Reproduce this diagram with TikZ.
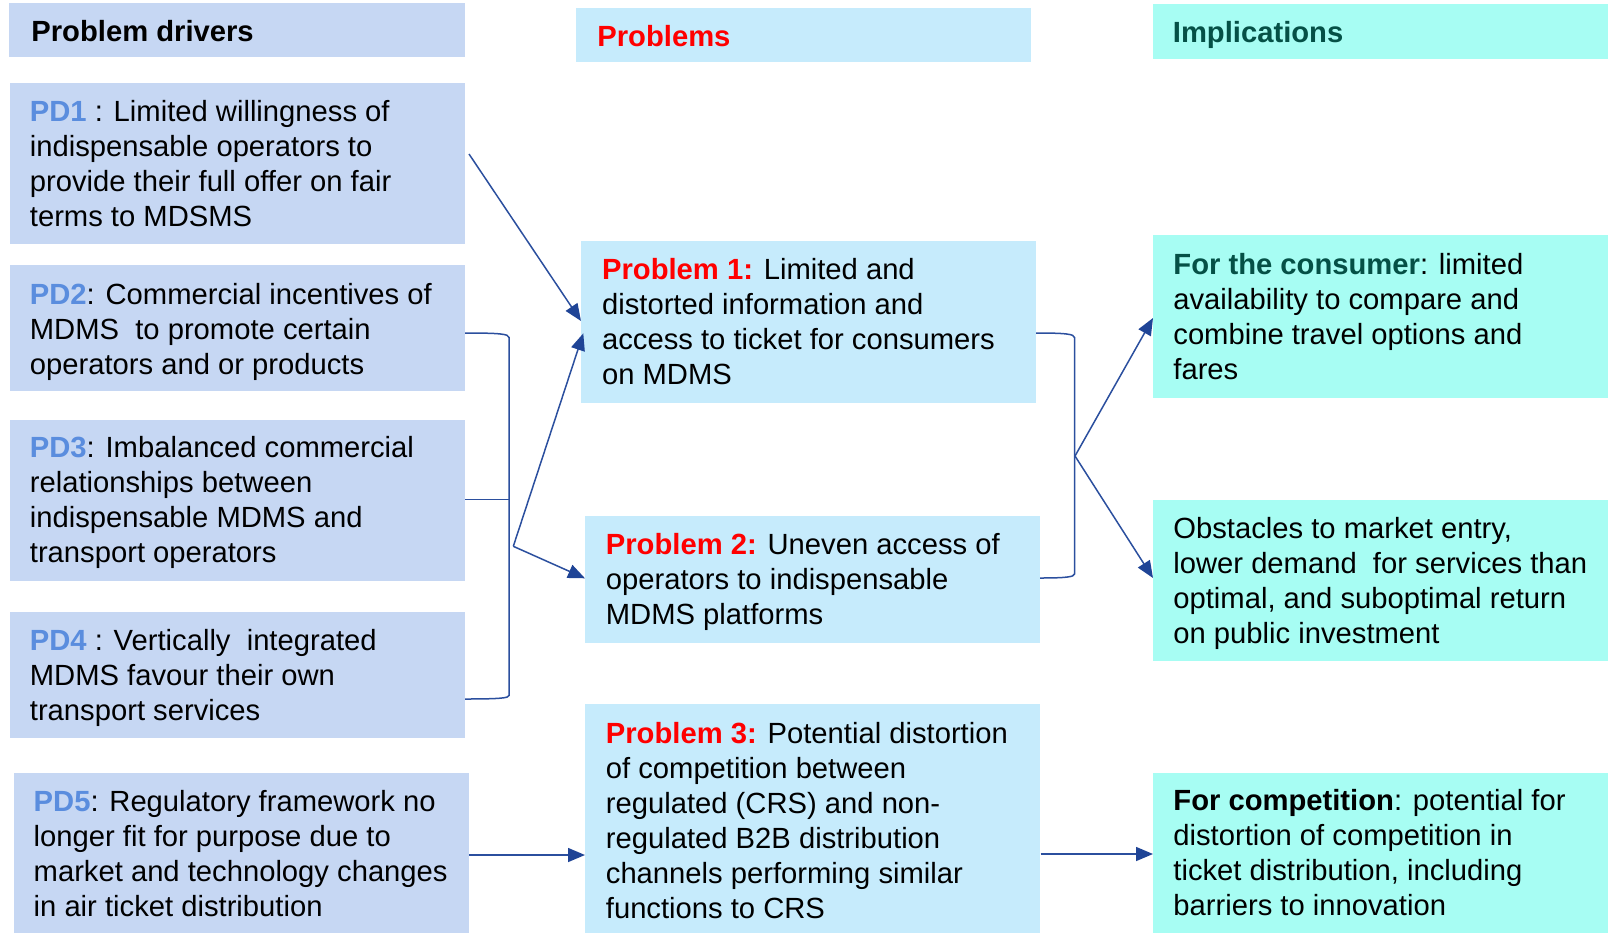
\documentclass[tikz,border=0pt]{standalone}
\usepackage{fontspec}
\setmainfont{Liberation Sans}
\usetikzlibrary{fit,arrows.meta}
\definecolor{colA}{HTML}{C6D7F3}
\definecolor{colB}{HTML}{C6EBFC}
\definecolor{colC}{HTML}{A7FDF3}
\definecolor{pdblue}{HTML}{5A8DDE}
\definecolor{teal}{HTML}{055046}
\definecolor{lnblue}{HTML}{2B4F9E}
\definecolor{headblue}{HTML}{1F4496}
\definecolor{red}{HTML}{FF0000}
\newcommand{\mylines}[1]{\begin{tabular}[t]{@{}l@{}}#1\end{tabular}}
\newcommand{\pd}[1]{\textcolor{pdblue}{\textbf{#1}}}
\newcommand{\prb}[1]{\textcolor{red}{\textbf{#1}}}
\begin{document}
\begin{tikzpicture}[x=0.5pt,y=-0.5pt,
  boxA/.style={fill=colA,draw=none,inner sep=0pt},
  boxB/.style={fill=colB,draw=none,inner sep=0pt},
  boxC/.style={fill=colC,draw=none,inner sep=0pt},
  txt/.style={anchor=base west,inner sep=0pt,font=\fontsize{14.6}{17.5}\selectfont},
  conn/.style={draw=lnblue,line width=0.75pt},
  arr/.style={conn,-{Triangle[length=8.5pt,width=7pt,color=headblue]}}]
\useasboundingbox (0,0) rectangle (1619,933);
% boxes
\node[boxA,fit={(9,3) (465,57)}] (hd1) {};
\node[boxA,fit={(10,83) (465,244)}] (pd1) {};
\node[boxA,fit={(10,265) (465,391)}] (pd2) {};
\node[boxA,fit={(10,420) (465,581)}] (pd3) {};
\node[boxA,fit={(10,612) (465,738)}] (pd4) {};
\node[boxA,fit={(14,773) (469,933)}] (pd5) {};
\node[boxB,fit={(576,8) (1031,62)}] (hd2) {};
\node[boxB,fit={(581,241) (1036,403)}] (p1) {};
\node[boxB,fit={(585,516) (1040,643)}] (p2) {};
\node[boxB,fit={(585,704) (1040,933)}] (p3) {};
\node[boxC,fit={(1153,4) (1608,59)}] (hd3) {};
\node[boxC,fit={(1153,235) (1608,398)}] (c1) {};
\node[boxC,fit={(1153,500) (1608,661)}] (c2) {};
\node[boxC,fit={(1153,773) (1608,933)}] (c3) {};
% texts
\node[txt] (hd1t) at (31,41) {\textbf{Problem drivers}};
\node[txt] (pd1t) at (29.5,121.7) {\mylines{\pd{PD1} : Limited willingness of\\indispensable operators to\\provide their full offer on fair\\terms to MDSMS}};
\node[txt] (pd2t) at (29.5,304.5) {\mylines{\pd{PD2}: Commercial incentives of\\MDMS\ \ to promote certain\\operators and or products}};
\node[txt] (pd3t) at (29.5,457) {\mylines{\pd{PD3}: Imbalanced commercial\\relationships between\\indispensable MDMS and\\transport operators}};
\node[txt] (pd4t) at (29.5,650.5) {\mylines{\pd{PD4} : Vertically\ \ integrated\\MDMS favour their own\\transport services}};
\node[txt] (pd5t) at (33.3,811.7) {\mylines{\pd{PD5}: Regulatory framework no\\longer fit for purpose due to\\market and technology changes\\in air ticket distribution}};
\node[txt] (hd2t) at (597,46.5) {\prb{Problems}};
\node[txt] (p1t) at (601.7,279.3) {\mylines{\prb{Problem 1:} Limited and\\distorted information and\\access to ticket for consumers\\on MDMS}};
\node[txt] (p2t) at (605.5,554.5) {\mylines{\prb{Problem 2:} Uneven access of\\operators to indispensable\\MDMS platforms}};
\node[txt] (p3t) at (605.5,743.5) {\mylines{\prb{Problem 3:} Potential distortion\\of competition between\\regulated (CRS) and non-\\regulated B2B distribution\\channels performing similar\\functions to CRS}};
\node[txt] (hd3t) at (1172.5,42.5) {\textcolor{teal}{\textbf{Implications}}};
\node[txt] (c1t) at (1173,274.3) {\mylines{\textcolor{teal}{\textbf{For the consumer}}: limited\\availability to compare and\\combine travel options and\\fares}};
\node[txt] (c2t) at (1173,538) {\mylines{Obstacles to market entry,\\lower demand\ \ for services than\\optimal, and suboptimal return\\on public investment}};
\node[txt] (c3t) at (1173,810.7) {\mylines{\textbf{For competition}: potential for\\distortion of competition in\\ticket distribution, including\\barriers to innovation}};
% connector points
\coordinate (s1) at (469,154);
\coordinate (e1) at (581,321);
\coordinate (lbT) at (465,333);
\coordinate (lbB) at (465,699);
\coordinate (lbM) at (465,499.3);
\coordinate (lbMr) at (509,499.3);
\coordinate (lbr) at (513.3,546.3);
\coordinate (e2) at (583.3,333.3);
\coordinate (e3) at (585,578.3);
\coordinate (rbT) at (1036,333);
\coordinate (rbB) at (1040,578);
\coordinate (rbr) at (1075,456);
\coordinate (e4) at (1153,318);
\coordinate (e5) at (1153,578);
\coordinate (s6) at (469,855);
\coordinate (e6) at (585,855);
\coordinate (s7) at (1040.5,854);
\coordinate (e7) at (1153,854);
% connectors
\draw[arr] (s1) -- (e1);
\draw[conn] (lbT) .. controls (500,333) and (509,334) .. (509,337.5) -- (509,695.5) .. controls (509,698) and (500,699) .. (lbB);
\draw[conn] (lbM) -- (lbMr);
\draw[arr] (lbr) -- (e2);
\draw[arr] (lbr) -- (e3);
\draw[conn] (rbT) .. controls (1065,333) and (1074.5,334) .. (1074.5,337.5) -- (1074.5,574) .. controls (1074.5,577) and (1065,578) .. (rbB);
\draw[arr] (rbr) -- (e4);
\draw[arr] (rbr) -- (e5);
\draw[arr] (s6) -- (e6);
\draw[arr] (s7) -- (e7);
\end{tikzpicture}
\end{document}
